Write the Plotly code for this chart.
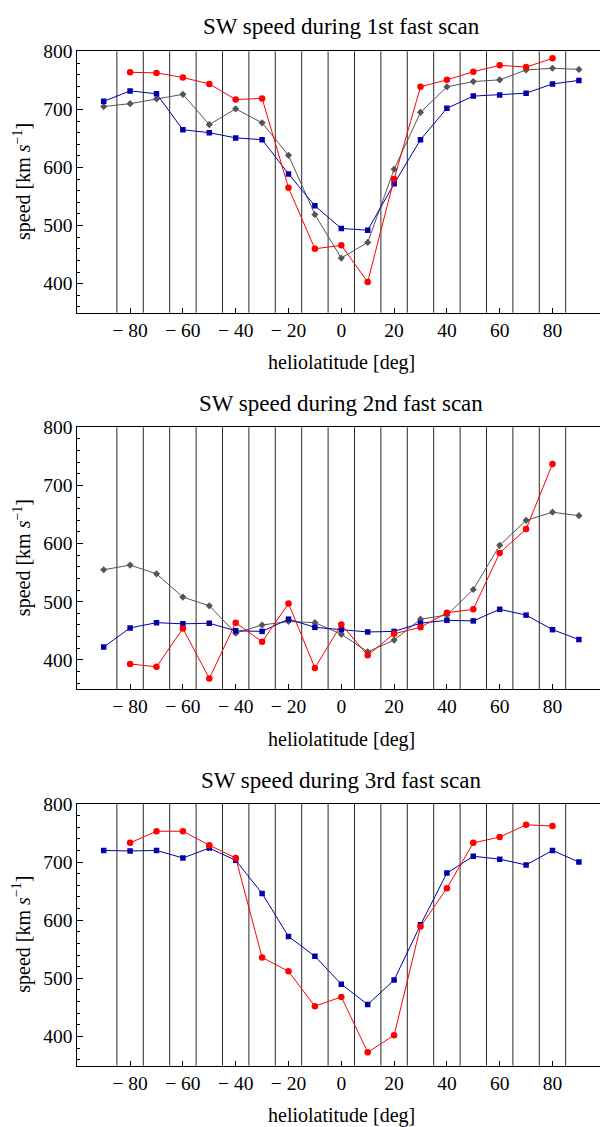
import plotly.graph_objects as go

lat = [-90, -80, -70, -60, -50, -40, -30, -20, -10, 0, 10, 20, 30, 40, 50, 60, 70, 80, 90]
lat_red = lat[1:18]

titles = ["SW speed during 1st fast scan", "SW speed during 2nd fast scan", "SW speed during 3rd fast scan"]

blue1 = [714, 732, 727, 665, 660, 651, 648, 589, 534, 495, 492, 572, 648, 702, 723, 725, 728, 744, 750]
red1 = [764, 763, 755, 744, 717, 719, 565, 460, 466, 403, 580, 739, 751, 765, 776, 773, 788]
gray1 = [705, 710, 718, 726, 674, 701, 677, 621, 519, 444, 471, 597, 695, 739, 748, 751, 768, 771, 769]

blue2 = [422, 455, 464, 462, 463, 450, 449, 470, 456, 452, 448, 449, 463, 468, 467, 487, 477, 452, 435]
red2 = [393, 388, 454, 368, 464, 431, 497, 386, 461, 408, 445, 456, 481, 487, 584, 625, 737]
gray2 = [555, 563, 548, 508, 493, 446, 460, 466, 464, 444, 414, 434, 470, 477, 521, 597, 640, 654, 648]

blue3 = [720, 719, 720, 707, 724, 703, 646, 572, 538, 490, 455, 497, 592, 681, 710, 705, 695, 720, 700]
red3 = [733, 753, 753, 729, 707, 536, 512, 452, 468, 373, 402, 589, 655, 733, 743, 764, 762]
gray3 = None

vlines = [-85, -75, -65, -55, -45, -35, -25, -15, -5, 5, 15, 25, 35, 45, 55, 65, 75, 85]
xtick_vals = [-80, -60, -40, -20, 0, 20, 40, 60, 80]
xtick_text = ["\u2212 80", "\u2212 60", "\u2212 40", "\u2212 20", "0", "20", "40", "60", "80"]
ytick_vals = [400, 500, 600, 700, 800]

# the page body has an 8px margin: figure coordinates = page coordinates - 8
OFF = 8
W, H = 600, 1119
FONT = "Liberation Serif"

fig = go.Figure()

panels = [(blue1, red1, gray1), (blue2, red2, gray2), (blue3, red3, gray3)]
tops = [41.7, 421, 801]
bots = [305.3, 685, 1065]
title_y = [17, 397, 777]
xlab_y = [356, 736, 1115]
x0, x1 = 77.3, 605.3


def px(v):
    return v - OFF


layout = {}
annotations = []
shapes = []
for i, (b, r, g) in enumerate(panels):
    n = i + 1
    xa = "x" if n == 1 else f"x{n}"
    ya = "y" if n == 1 else f"y{n}"
    if g is not None:
        fig.add_trace(go.Scatter(x=lat, y=g, mode="lines+markers", xaxis=xa, yaxis=ya,
                                 line=dict(color="#555555", width=1),
                                 marker=dict(symbol="diamond", size=5.5, color="#555555"),
                                 showlegend=False))
    fig.add_trace(go.Scatter(x=lat, y=b, mode="lines+markers", xaxis=xa, yaxis=ya,
                             line=dict(color="#0000aa", width=1),
                             marker=dict(symbol="square", size=5.5, color="#0000aa"),
                             showlegend=False))
    fig.add_trace(go.Scatter(x=lat_red, y=r, mode="lines+markers", xaxis=xa, yaxis=ya,
                             line=dict(color="#ff0000", width=1),
                             marker=dict(symbol="circle", size=6.5, color="#ff0000"),
                             showlegend=False))
    yd = [max(0, 1 - px(bots[i]) / H), min(1, 1 - px(tops[i]) / H)]
    xd = [px(x0) / W, min(1, px(x1) / W)]
    axis_common = dict(showline=True, linecolor="black", linewidth=1, mirror=True,
                       showgrid=False, zeroline=False, ticks="inside",
                       tickcolor="black", tickfont=dict(family=FONT, size=19.5, color="black"))
    layout["xaxis" if n == 1 else f"xaxis{n}"] = dict(
        domain=xd, range=[-100, 100], anchor=ya, tickvals=xtick_vals, ticktext=xtick_text,
        ticklen=5, **axis_common)
    layout["yaxis" if n == 1 else f"yaxis{n}"] = dict(
        domain=yd, range=[350, 800], anchor=xa, tickvals=ytick_vals, ticklen=6,
        minor=dict(dtick=20, tick0=0, ticks="inside", ticklen=3, tickcolor="black"),
        **axis_common)
    for v in vlines:
        shapes.append(dict(type="line", xref=xa, yref=f"{ya} domain", x0=v, x1=v, y0=0, y1=1,
                           line=dict(color="#2a2a2a", width=1), layer="below"))
    xc = (px(x0) + px(x1)) / 2 / W
    annotations.append(dict(text=titles[i], x=xc, y=1 - px(title_y[i]) / H, xref="paper", yref="paper",
                            showarrow=False, font=dict(family=FONT, size=23, color="black"),
                            xanchor="center", yanchor="middle"))
    annotations.append(dict(text="heliolatitude [deg]", x=xc, y=1 - px(xlab_y[i]) / H, xref="paper",
                            yref="paper", showarrow=False,
                            font=dict(family=FONT, size=20, color="black"),
                            xanchor="center", yanchor="middle"))
    annotations.append(dict(text="speed [km <i>s</i><sup>\u22121</sup>]", x=px(22) / W,
                            y=1 - px((tops[i] + bots[i]) / 2) / H, xref="paper", yref="paper",
                            showarrow=False, textangle=-90,
                            font=dict(family=FONT, size=20, color="black"),
                            xanchor="center", yanchor="middle"))

fig.update_layout(width=W, height=H, margin=dict(l=0, r=0, t=0, b=0),
                  paper_bgcolor="white", plot_bgcolor="white",
                  annotations=annotations, shapes=shapes, **layout)

fig.write_html("out.html")
